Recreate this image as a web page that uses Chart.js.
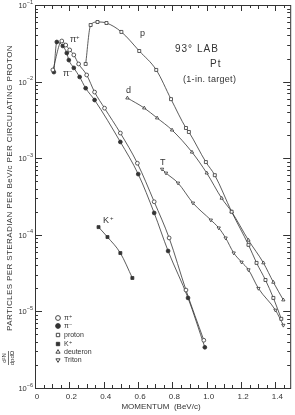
<!DOCTYPE html>
<html>
<head>
<meta charset="utf-8">
<script src="https://cdn.jsdelivr.net/npm/chart.js@4"></script>
<style>
  html, body { margin: 0; padding: 0; background: #fff; }
  #wrap { width: 295px; height: 415px; }
</style>
</head>
<body>
<div id="wrap"><canvas id="spectrum-chart" width="295" height="415"></canvas></div>
<script>
// momentum (BeV/c) and d2N/dp dOmega values
const piPlusP = [0.104, 0.156, 0.179, 0.202, 0.226, 0.254, 0.301, 0.347, 0.405, 0.497, 0.596, 0.694, 0.781, 0.879, 0.983];
const piPlusN = [1.42e-2, 3.39e-2, 3.0e-2, 2.59e-2, 2.23e-2, 1.70e-2, 1.22e-2, 7.3e-3, 4.5e-3, 2.13e-3, 8.6e-4, 2.7e-4, 9.1e-5, 1.9e-5, 4.2e-6];

const piMinusP = [0.110, 0.127, 0.162, 0.185, 0.197, 0.226, 0.260, 0.295, 0.347, 0.497, 0.601, 0.694, 0.775, 0.891, 0.989];
const piMinusN = [1.33e-2, 3.29e-2, 2.92e-2, 2.36e-2, 1.91e-2, 1.51e-2, 1.15e-2, 8.2e-3, 5.75e-3, 1.63e-3, 6.2e-4, 1.93e-4, 6.15e-5, 1.5e-5, 3.4e-6];

const protonP = [0.295, 0.324, 0.364, 0.416, 0.503, 0.607, 0.706, 0.792, 0.879, 0.896, 0.995, 1.047, 1.145, 1.243, 1.290, 1.342, 1.388, 1.434];
const protonN = [1.7e-2, 5.48e-2, 6.0e-2, 5.82e-2, 4.45e-2, 2.51e-2, 1.42e-2, 5.9e-3, 2.48e-3, 2.2e-3, 8.9e-4, 6.0e-4, 2.0e-4, 7.4e-5, 4.3e-5, 2.57e-5, 1.5e-5, 8.0e-6];

const kPlusP = [0.370, 0.422, 0.497, 0.567];
const kPlusN = [1.26e-4, 9.35e-5, 5.78e-5, 2.73e-5];

const deuteronP = [0.538, 0.636, 0.711, 0.798, 0.914, 1.0, 1.087, 1.145, 1.243, 1.330, 1.388, 1.446];
const deuteronN = [6.1e-3, 4.52e-3, 3.35e-3, 2.33e-3, 1.2e-3, 6.4e-4, 3.0e-4, 2.0e-4, 8.5e-5, 4.3e-5, 2.4e-5, 1.41e-5];

const tritonP = [0.740, 0.763, 0.833, 0.920, 1.024, 1.070, 1.110, 1.157, 1.203, 1.243, 1.301, 1.400, 1.446];
const tritonN = [7.2e-4, 6.4e-4, 4.74e-4, 2.6e-4, 1.56e-4, 1.23e-4, 9.1e-5, 5.8e-5, 4.4e-5, 3.5e-5, 2.0e-5, 1.04e-5, 6.6e-6];

// axis ticks
const xTickLabels = ['0', '0.2', '0.4', '0.6', '0.8', '1.0', '1.2', '1.4'];
const xTickValues = [0, 0.2, 0.4, 0.6, 0.8, 1.0, 1.2, 1.4];
const yTickExponents = ['-1', '-2', '-3', '-4', '-5', '-6'];
const yTickValues = [1e-1, 1e-2, 1e-3, 1e-4, 1e-5, 1e-6];

const legendNames = ['π⁺', 'π⁻', 'proton', 'K⁺', 'deuteron', 'Triton'];

const INK = '#333';
const FONT = '"Liberation Sans", "DejaVu Sans", sans-serif';

function series(label, xs, ys, style, filled, rotation) {
  return {
    label: label,
    data: xs.map((x, i) => ({ x: x, y: ys[i] })),
    borderColor: INK,
    borderWidth: 0.8,
    pointStyle: style,
    pointRotation: rotation || 0,
    pointRadius: style === 'rect' ? 2.1 : 1.9,
    pointBorderWidth: 0.8,
    pointBorderColor: INK,
    pointBackgroundColor: filled ? INK : '#fff',
    cubicInterpolationMode: 'monotone',
    fill: false,
    clip: false,
  };
}

const datasets = [
  series('π+', piPlusP, piPlusN, 'circle', false),
  series('π-', piMinusP, piMinusN, 'circle', true),
  series('proton', protonP, protonN, 'rect', false),
  series('K+', kPlusP, kPlusN, 'rect', true),
  series('deuteron', deuteronP, deuteronN, 'triangle', false),
  series('Triton', tritonP, tritonN, 'triangle', false, 180),
];

// frame, inward ticks, labels and legend drawn on top of the chart area
const decorations = {
  id: 'decorations',
  afterDraw(chart) {
    const ctx = chart.ctx;
    const a = chart.chartArea;
    const xs = chart.scales.x;
    const ys = chart.scales.y;
    ctx.save();
    ctx.strokeStyle = INK;
    ctx.fillStyle = INK;
    ctx.lineWidth = 1;
    ctx.strokeRect(a.left + 0.5, a.top + 0.5, a.right - a.left, a.bottom - a.top);

    // x ticks every 0.05, longer at 0.1
    ctx.beginPath();
    for (let i = 0; i * 0.05 <= xs.max + 1e-9; i++) {
      const v = i * 0.05;
      const px = Math.round(xs.getPixelForValue(v)) + 0.5;
      const len = i % 4 === 0 ? 6 : (i % 2 === 0 ? 4 : 3);
      ctx.moveTo(px, a.bottom); ctx.lineTo(px, a.bottom - len);
      ctx.moveTo(px, a.top); ctx.lineTo(px, a.top + len);
    }
    // y ticks, decades and 2..9
    for (let e = -6; e <= -1; e++) {
      for (let m = 1; m <= 9; m++) {
        const v = m * Math.pow(10, e);
        if (v > ys.max * 1.0001) continue;
        const py = Math.round(ys.getPixelForValue(v)) + 0.5;
        const len = m === 1 ? 7 : 3;
        ctx.moveTo(a.left, py); ctx.lineTo(a.left + len, py);
        ctx.moveTo(a.right, py); ctx.lineTo(a.right - len, py);
      }
    }
    ctx.stroke();

    // x tick labels
    ctx.font = '8px ' + FONT;
    ctx.textAlign = 'center';
    ctx.textBaseline = 'middle';
    xTickValues.forEach((v, i) => {
      ctx.fillText(xTickLabels[i], xs.getPixelForValue(v) + 2, a.bottom + 9);
    });
    ctx.font = '8px ' + FONT;
    ctx.fillText('MOMENTUM  (BeV/c)', 161, 407);

    // y tick labels 10^n
    yTickValues.forEach((v, i) => {
      const py = ys.getPixelForValue(v);
      ctx.textAlign = 'right';
      ctx.font = '5.5px ' + FONT;
      const sup = yTickExponents[i].replace('-', '−');
      const supW = ctx.measureText(sup).width;
      ctx.fillText(sup, a.left - 2, py - 3);
      ctx.font = '7.5px ' + FONT;
      ctx.fillText('10', a.left - 2 - supW, py + 1);
    });

    // rotated y title
    ctx.save();
    ctx.translate(10, 188);
    ctx.rotate(-Math.PI / 2);
    ctx.font = '8px ' + FONT;
    ctx.letterSpacing = '0.4px';
    ctx.textAlign = 'center';
    ctx.fillText('PARTICLES PER STERADIAN PER BeV/c PER CIRCULATING PROTON', 0, 0);
    ctx.restore();
    // d2N / dp dOmega fraction
    ctx.save();
    ctx.translate(8, 358);
    ctx.rotate(-Math.PI / 2);
    ctx.textAlign = 'center';
    ctx.font = '6px ' + FONT;
    ctx.fillText('d²N', 0, -4);
    ctx.fillText('dpdΩ', 0, 4);
    ctx.beginPath();
    ctx.moveTo(-7, 0.5); ctx.lineTo(7, 0.5);
    ctx.lineWidth = 0.7;
    ctx.stroke();
    ctx.restore();

    // annotation
    ctx.textAlign = 'left';
    ctx.font = '10px ' + FONT;
    ctx.letterSpacing = '1px';
    ctx.fillText('93° LAB', 175, 49);
    ctx.fillText('Pt', 210, 64);
    ctx.letterSpacing = '0.3px';
    ctx.font = '9px ' + FONT;
    ctx.fillText('(1-in. target)', 183, 80);
    ctx.letterSpacing = '0px';

    // curve labels
    ctx.font = '9px ' + FONT;
    ctx.fillText('p', 140, 34);
    ctx.fillText('d', 126, 91);
    ctx.fillText('T', 160, 163);
    ctx.fillText('K', 103, 221);
    ctx.fillText('π', 70, 40);
    ctx.fillText('π', 63, 74);
    ctx.font = '6px ' + FONT;
    ctx.fillText('+', 110, 218);
    ctx.fillText('+', 76, 37);
    ctx.fillText('−', 69, 71);

    // legend
    const rows = [318, 326, 335, 344, 352, 360];
    chart.data.datasets.forEach((ds, i) => {
      const y = rows[i];
      ctx.save();
      ctx.fillStyle = ds.pointBackgroundColor;
      ctx.strokeStyle = INK;
      ctx.lineWidth = 0.9;
      Chart.helpers.drawPoint(ctx, {
        pointStyle: ds.pointStyle,
        rotation: ds.pointRotation,
        radius: 2.4,
        borderWidth: 0.9,
      }, 58, y);
      ctx.restore();
      ctx.font = '7px ' + FONT;
      ctx.textAlign = 'left';
      ctx.fillText(legendNames[i], 64, y + 0.5);
    });
    ctx.restore();
  }
};

const ctx = document.getElementById('spectrum-chart').getContext('2d');
const spectrumChart = new Chart(ctx, {
  type: 'line',
  data: { datasets: datasets },
  options: {
    responsive: false,
    animation: false,
    devicePixelRatio: 1,
    layout: { padding: { left: 35, right: 3, top: 5, bottom: 27 } },
    plugins: {
      legend: { display: false },
      tooltip: { enabled: false },
    },
    scales: {
      x: { type: 'linear', min: 0, max: 1.486, display: false },
      y: { type: 'logarithmic', min: 1e-6, max: 1e-1, display: false },
    },
  },
  plugins: [decorations],
});
</script>
</body>
</html>
